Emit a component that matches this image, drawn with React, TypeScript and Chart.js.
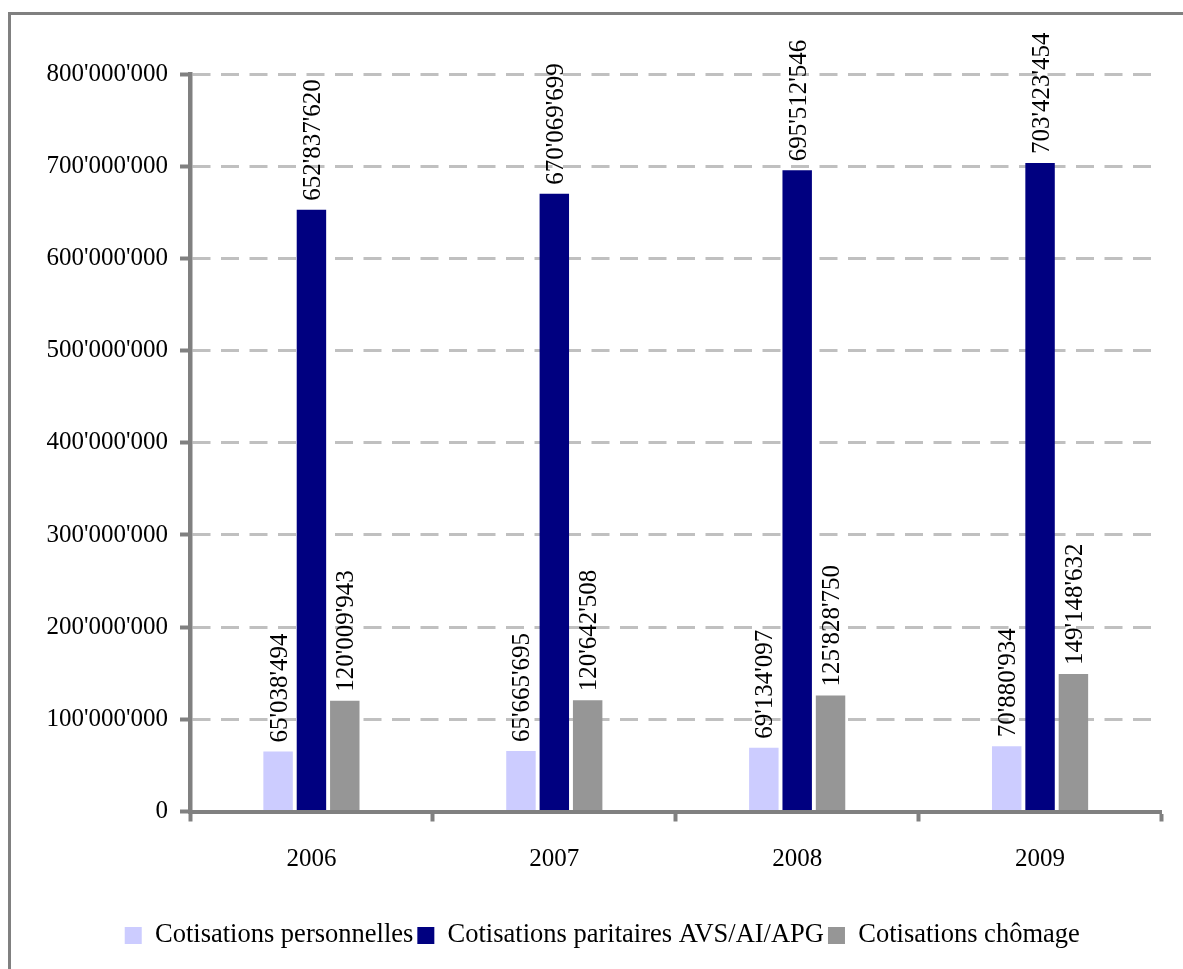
import React, { useEffect, useRef } from "react";
import { Chart, registerables } from "chart.js";

Chart.register(...registerables);

// Contribution totals per year (CHF)
const years = ["2006", "2007", "2008", "2009"];
const personalContributions = [65038494, 65665695, 69134097, 70880934];
const jointContributions = [652837620, 670069699, 695512546, 703423454];
const unemploymentContributions = [120009943, 120642508, 125828750, 149148632];
const seriesNames = [
  "Cotisations personnelles",
  "Cotisations paritaires AVS/AI/APG",
  "Cotisations chômage",
];
const seriesColors = ["#CCCCFF", "#000080", "#969696"];
const yMax = 800000000;
const yStep = 100000000;

const FONT_FAMILY = "'Liberation Serif', 'Times New Roman', serif";
const FONT_SIZE = 25;
const LEGEND_FONT_SIZE = 26.5;
const AXIS_GRAY = "#808080";

// Swiss style thousands separator: 652'837'620
const formatSwiss = (v: number) =>
  Math.round(v).toString().replace(/\B(?=(\d{3})+(?!\d))/g, "'");

// Vertical value labels written above each bar
const barValueLabels = {
  id: "barValueLabels",
  afterDatasetsDraw(chart: any) {
    const ctx: CanvasRenderingContext2D = chart.ctx;
    ctx.save();
    ctx.font = `${FONT_SIZE}px ${FONT_FAMILY}`;
    ctx.fillStyle = "#000";
    ctx.textAlign = "left";
    ctx.textBaseline = "alphabetic";
    chart.data.datasets.forEach((ds: any, di: number) => {
      const meta = chart.getDatasetMeta(di);
      meta.data.forEach((bar: any, i: number) => {
        const value = ds.data[i] as number;
        ctx.save();
        ctx.translate(bar.x + FONT_SIZE * 0.338, bar.y - 9);
        ctx.rotate(-Math.PI / 2);
        ctx.fillText(formatSwiss(value), 0, 0);
        ctx.restore();
      });
    });
    ctx.restore();
  },
};

export default function App() {
  const canvasRef = useRef<HTMLCanvasElement | null>(null);

  useEffect(() => {
    if (!canvasRef.current) return;
    const font = { family: FONT_FAMILY, size: FONT_SIZE };
    const seriesData = [personalContributions, jointContributions, unemploymentContributions];

    const chart = new Chart(canvasRef.current, {
      type: "bar",
      data: {
        labels: years,
        datasets: seriesData.map((data, k) => ({
          label: seriesNames[k],
          data,
          backgroundColor: seriesColors[k],
          borderColor: seriesColors[k],
          borderWidth: 0,
          categoryPercentage: 0.412,
          barPercentage: 0.883,
        })),
      },
      options: {
        animation: false,
        responsive: false,
        layout: { padding: { top: 59, right: 21.5, bottom: 10.25, left: 32 } },
        plugins: {
          legend: {
            position: "bottom",
            labels: {
              font: { family: FONT_FAMILY, size: LEGEND_FONT_SIZE },
              color: "#000",
              boxWidth: 17,
              boxHeight: 17,
              padding: 4,
            },
          },
          tooltip: { enabled: false },
          title: { display: false },
        },
        scales: {
          x: {
            grid: {
              display: true,
              drawOnChartArea: false,
              drawTicks: true,
              offset: true,
              tickLength: 10,
              tickColor: AXIS_GRAY,
              tickWidth: 4,
            },
            border: { display: true, color: AXIS_GRAY, width: 4 },
            ticks: { font, color: "#000", padding: 23 },
            afterFit(scale: any) {
              scale.height = 106.75;
            },
          },
          y: {
            min: 0,
            max: yMax,
            ticks: {
              stepSize: yStep,
              font,
              color: "#000",
              padding: 12,
              callback: (v: any) => formatSwiss(Number(v)),
            },
            grid: {
              color: "#C0C0C0",
              lineWidth: 3,
              tickLength: 10,
              tickColor: AXIS_GRAY,
              tickWidth: 4,
              tickBorderDash: [],
            },
            border: { display: true, color: AXIS_GRAY, width: 4.5, dash: [18, 10.5] },
            afterFit(scale: any) {
              scale.width = 147;
            },
          },
        },
      } as any,
      plugins: [barValueLabels],
    });

    return () => chart.destroy();
  }, []);

  return (
    <div
      style={{
        position: "absolute",
        left: 8,
        top: 12,
        width: 1172,
        height: 954,
        borderLeft: `3px solid ${AXIS_GRAY}`,
        borderTop: `3px solid ${AXIS_GRAY}`,
        background: "#fff",
      }}
    >
      <canvas ref={canvasRef} width={1172} height={954} style={{ display: "block" }} />
    </div>
  );
}
